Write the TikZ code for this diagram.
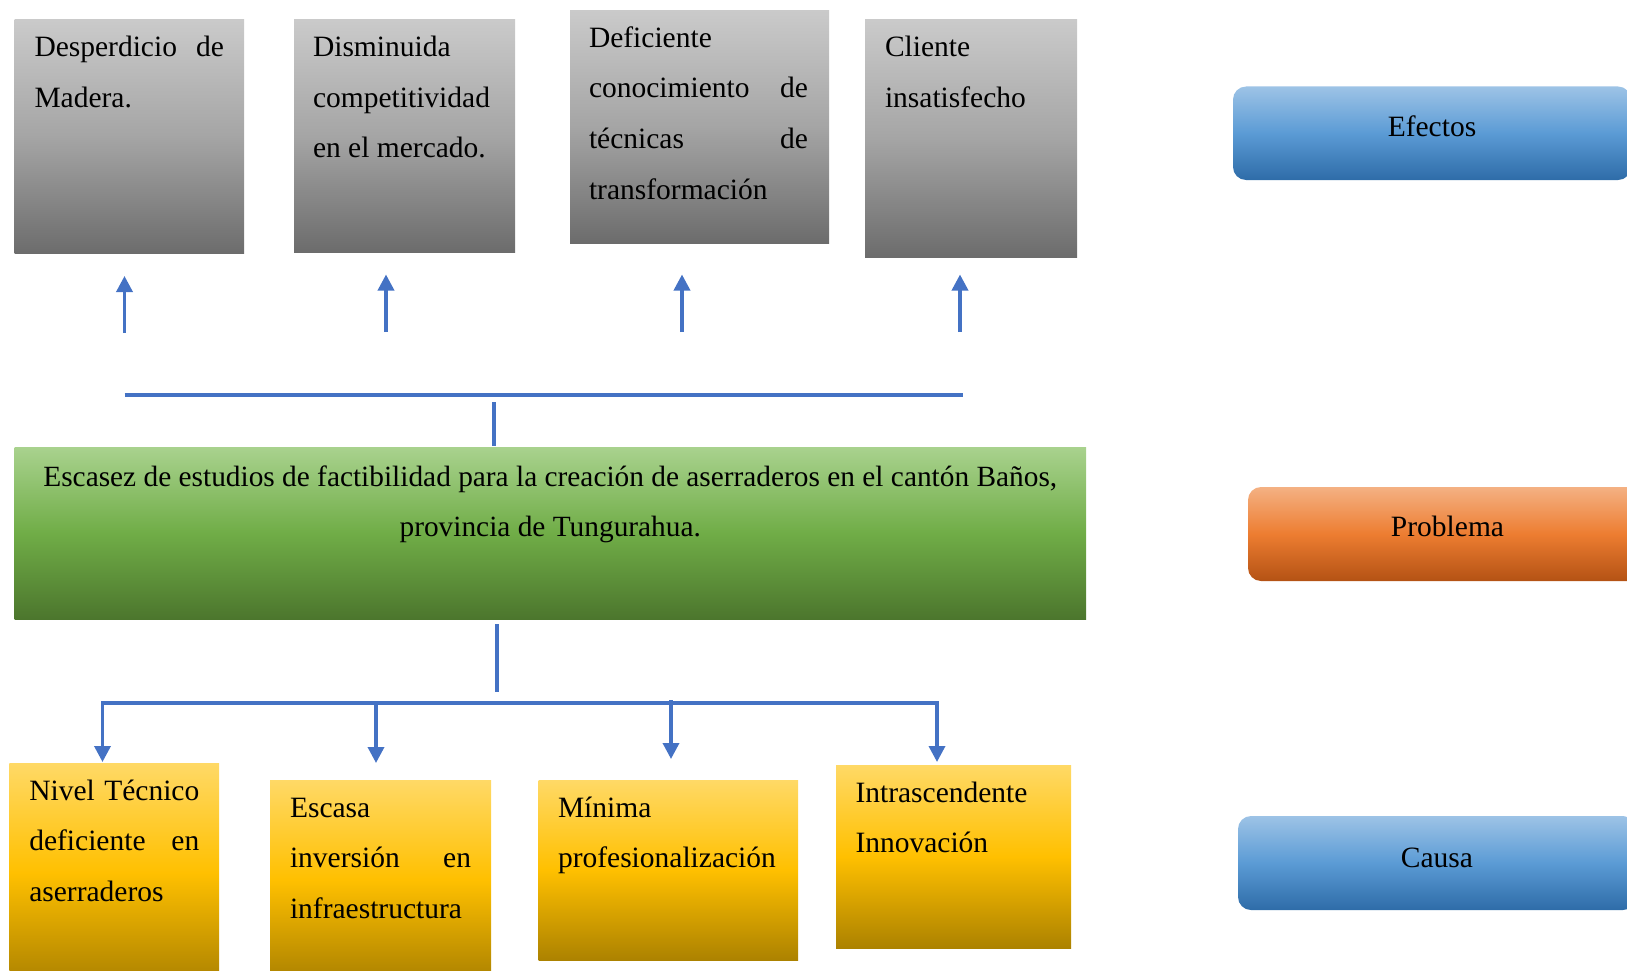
\documentclass[tikz,border=0pt]{standalone}
\usepackage{fontspec}
\setmainfont{Liberation Serif}
\usetikzlibrary{arrows.meta}
\definecolor{lineblue}{RGB}{68,114,196}
\definecolor{graytop}{RGB}{202,202,202}
\definecolor{graymid}{RGB}{165,165,165}
\definecolor{graybot}{RGB}{108,108,108}
\definecolor{greentop}{RGB}{169,210,142}
\definecolor{greenmid}{RGB}{112,173,71}
\definecolor{greenbot}{RGB}{76,118,45}
\definecolor{yeltop}{RGB}{255,217,102}
\definecolor{yelmid}{RGB}{255,192,0}
\definecolor{yelbot}{RGB}{172,130,0}
\definecolor{bluetop}{RGB}{157,195,230}
\definecolor{bluemid}{RGB}{91,155,213}
\definecolor{bluebot}{RGB}{46,108,168}
\definecolor{orgtop}{RGB}{244,177,131}
\definecolor{orgmid}{RGB}{237,125,49}
\definecolor{orgbot}{RGB}{180,82,20}
\newcommand\txtblock[2]{\vbox{\hsize=#1\relax\fontsize{29.5}{50.7}\selectfont #2}}
\newcommand\txtblockc[2]{\vbox{\hsize=#1\relax\fontsize{29.5}{50.5}\selectfont #2}}
\newcommand\jline[1]{\hbox to \hsize{#1}}
\newcommand\fline[1]{\hbox to \hsize{\rule{0pt}{30pt}#1}}
\tikzset{
  conn/.style={draw=lineblue, line width=3.5pt},
  arr/.style={conn, -{Triangle[length=16pt,width=16pt]}},
  boxbase/.style={anchor=north west, inner sep=0pt, outer sep=0pt, draw=none},
  graybox/.style={boxbase, top color=graytop, bottom color=graybot, middle color=graymid},
  greenbox/.style={boxbase, top color=greentop, bottom color=greenbot, middle color=greenmid},
  yelbox/.style={boxbase, top color=yeltop, bottom color=yelbot, middle color=yelmid},
  bluelabel/.style={boxbase, rounded corners=13pt, top color=bluetop, bottom color=bluebot, middle color=bluemid},
  orglabel/.style={boxbase, rounded corners=13pt, top color=orgtop, bottom color=orgbot, middle color=orgmid},
  txt/.style={anchor=north west, inner sep=0pt, outer sep=0pt, text=black},
  lbl/.style={anchor=base, inner sep=0pt, font=\fontsize{29.5}{35}\selectfont, text=black}
}
\begin{document}
\begin{tikzpicture}[x=1pt,y=-1pt]
\useasboundingbox (0,0) rectangle (1627,971);
\clip (0,0) rectangle (1627,971);

% Effect boxes
\node[graybox, minimum width=229.5pt, minimum height=233.5pt] (e1) at (14.5,20) {};
\node[graybox, minimum width=221pt, minimum height=232pt] (e2) at (294,20) {};
\node[graybox, minimum width=259pt, minimum height=232.6pt] (e3) at (570,10.4) {};
\node[graybox, minimum width=212pt, minimum height=237pt] (e4) at (865,20) {};

\node[txt] (e1t) at (34.5,26.5) {\txtblock{189.5pt}{\fline{Desperdicio\hfill de}\jline{Madera.\hfil}}};
\node[txt] (e2t) at (313,26.5) {\txtblock{181pt}{\fline{Disminuida\hfil}\jline{competitividad\hfil}\jline{en el mercado.\hfil}}};
\node[txt] (e3t) at (589,17) {\txtblock{219pt}{\fline{Deficiente\hfil}\jline{conocimiento\hfill de}\jline{técnicas\hfill de}\jline{transformación\hfil}}};
\node[txt] (e4t) at (885,26.5) {\txtblock{172pt}{\fline{Cliente\hfil}\jline{insatisfecho\hfil}}};

% Problem box
\node[greenbox, minimum width=1071.5pt, minimum height=172pt] (prob) at (14.5,447) {};
\node[txt] (probt) at (14.5,456.5) {\vbox{\hsize=1071.5pt\fontsize{29.35}{50}\selectfont
  \hbox to \hsize{\hfil\rule{0pt}{30pt}Escasez de estudios de factibilidad para la creación de aserraderos en el cantón Baños,\hfil}
  \hbox to \hsize{\hfil provincia de Tungurahua.\hfil}}};

% Cause boxes
\node[yelbox, minimum width=209.7pt, minimum height=220pt] (c1) at (9.3,763) {};
\node[yelbox, minimum width=221pt, minimum height=200pt] (c2) at (270,780) {};
\node[yelbox, minimum width=259.5pt, minimum height=180pt] (c3) at (538.5,780) {};
\node[yelbox, minimum width=235pt, minimum height=183pt] (c4) at (836,765) {};

\node[txt] (c1t) at (29.3,770) {\txtblockc{170pt}{\fline{Nivel\hfill Técnico}\jline{deficiente\hfill en}\jline{aserraderos\hfil}}};
\node[txt] (c2t) at (290,787) {\txtblockc{181pt}{\fline{Escasa\hfil}\jline{inversión\hfill en}\jline{infraestructura\hfil}}};
\node[txt] (c3t) at (558,787) {\txtblockc{220pt}{\fline{Mínima\hfil}\jline{profesionalización\hfil}}};
\node[txt] (c4t) at (855.5,772) {\txtblockc{195pt}{\fline{Intrascendente\hfil}\jline{Innovación\hfil}}};

% Right-side labels
\node[bluelabel, minimum width=398pt, minimum height=93.5pt] (lef) at (1233,86.5) {};
\node[orglabel, minimum width=399pt, minimum height=94pt] (lpr) at (1248,487) {};
\node[bluelabel, minimum width=398pt, minimum height=94pt] (lca) at (1238,816) {};
\node[lbl] (left) at (1432,136.5) {Efectos};
\node[lbl] (lprt) at (1447.5,536) {Problema};
\node[lbl] (lcat) at (1437,867) {Causa};

% Effect connectors
\coordinate (ua1b) at (124.5,333); \coordinate (ua1t) at (124.5,276);
\coordinate (ua2b) at (386,332);   \coordinate (ua2t) at (386,274.5);
\coordinate (ua3b) at (682,332);   \coordinate (ua3t) at (682,274.5);
\coordinate (ua4b) at (960,332);   \coordinate (ua4t) at (960,274.5);
\draw[arr] (ua1b) -- (ua1t);
\draw[arr] (ua2b) -- (ua2t);
\draw[arr] (ua3b) -- (ua3t);
\draw[arr] (ua4b) -- (ua4t);
\coordinate (thl) at (124.5,395); \coordinate (thr) at (963,395);
\draw[conn] (thl) -- (thr);
\coordinate (ts1) at (494,402); \coordinate (ts2) at (494,446);
\draw[conn] (ts1) -- (ts2);

% Cause connectors
\coordinate (bs1) at (497,624); \coordinate (bs2) at (497,691.5);
\draw[conn] (bs1) -- (bs2);
\coordinate (bhm) at (497,703);
\coordinate (bhl) at (102.5,703); \coordinate (bhr) at (937,703);
\coordinate (d1) at (102.5,762); \coordinate (d2) at (376,763);
\coordinate (d3) at (671,759); \coordinate (d4) at (937,762);
\coordinate (h2) at (376,703); \coordinate (h3) at (671,700);
\draw[arr, line join=miter] (bhm) -- (bhl) -- (d1);
\draw[arr, line join=miter] (bhm) -- (bhr) -- (d4);
\draw[arr] (h2) -- (d2);
\draw[arr] (h3) -- (d3);
\end{tikzpicture}
\end{document}
